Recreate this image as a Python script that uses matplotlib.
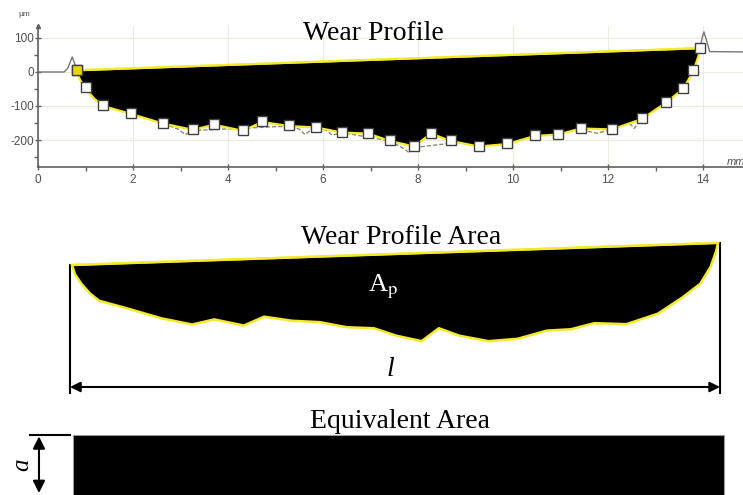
import numpy as np
import matplotlib
matplotlib.use('Agg')
import matplotlib.pyplot as plt
from matplotlib.patches import Rectangle

# measured points along the wear scar (mm, um)
marker_x = [0.82, 1.01, 1.37, 1.95, 2.64, 3.26, 3.71, 4.31, 4.72, 5.29, 5.85, 6.40, 6.95, 7.41,
            7.92, 8.27, 8.69, 9.28, 9.87, 10.46, 10.95, 11.43, 12.08, 12.72, 13.22, 13.58, 13.79, 13.94]
marker_y = [5, -44, -97, -120, -150, -168, -153, -171, -145, -157, -161, -176, -179, -201,
            -217, -179, -201, -217, -210, -186, -182, -164, -167, -136, -88, -48, 5, 70]

# lower boundary of the worn region
edge_x = [0.82, 0.88, 1.01, 1.18, 1.37, 1.95, 2.64, 3.26, 3.71, 4.31, 4.72, 5.29, 5.85, 6.40, 6.95,
          7.41, 7.92, 8.27, 8.69, 9.28, 9.87, 10.46, 10.95, 11.43, 12.08, 12.72, 13.22, 13.58,
          13.79, 13.90, 13.94]
edge_y = [5, -22, -50, -78, -100, -123, -152, -170, -155, -173, -147, -159, -163, -178, -181,
          -203, -219, -181, -203, -219, -212, -188, -184, -166, -169, -138, -90, -50, 0, 45, 70]

# raw trace outside the scar and dips below the fitted edge
left_x = [0.0, 0.55, 0.63, 0.72, 0.78, 0.82]
left_y = [0, 0, 12, 44, 22, 5]
right_x = [13.94, 13.98, 14.02, 14.07, 14.14, 14.84]
right_y = [70, 100, 118, 95, 60, 59]
raw_x = [2.64, 2.95, 3.10, 3.26, 5.29, 5.50, 5.62, 5.80, 6.05, 6.20, 6.40, 7.41, 7.70, 7.82,
         7.92, 11.43, 11.62, 11.78, 12.08, 12.45, 12.55, 12.65]
raw_y = [-152, -168, -184, -172, -159, -168, -184, -165, -170, -186, -178, -203, -225, -238,
         -222, -166, -176, -180, -169, -150, -166, -148]

# unworn reference line across the scar
ref_x = [0.82, 13.94]
ref_y = [5, 70]

W, H = 743, 495
plt.rcParams['mathtext.fontset'] = 'stix'
plt.rcParams['axes.unicode_minus'] = False
fig = plt.figure(figsize=(W / 100, H / 100), dpi=100)
serif = ['Liberation Serif', 'DejaVu Serif']
yel = '#f2ea2a'
grey = '#606060'

# ---- top panel: profilometer trace ----
px_mm = 47.5
px_um = 0.34
ax = fig.add_axes([38 / W, 1 - 167 / H, (W - 38) / W, 141 / H])
ax.set_xlim(0, (W - 38) / px_mm)
ax.set_ylim(-(167 - 72) / px_um, (72 - 26) / px_um)
for s in ['top', 'right']:
    ax.spines[s].set_visible(False)
for s in ['left', 'bottom']:
    ax.spines[s].set_color(grey)
    ax.spines[s].set_linewidth(1.2)
ax.set_xticks(np.arange(0, 15, 2))
ax.set_xticks(np.arange(1, 15, 2), minor=True)
ax.set_yticks([-200, -100, 0, 100])
ax.set_yticks([-250, -150, -50, 50], minor=True)
ax.tick_params(which='both', colors=grey, labelcolor='#505050', labelsize=8.5, width=1)
ax.tick_params(which='major', length=4)
ax.tick_params(which='minor', length=3)
ax.tick_params(axis='x', direction='inout', pad=3)
ax.tick_params(axis='y', direction='inout', pad=1)
for lab in ax.get_xticklabels() + ax.get_yticklabels():
    lab.set_family('Liberation Sans')
ax.grid(True, which='major', color='#ecebdc', lw=0.8)
ax.set_axisbelow(True)
ax.plot([0], [ax.get_ylim()[1]], marker='^', ms=3, color=grey, clip_on=False)

ax.plot(left_x, left_y, color='#777777', lw=1)
ax.plot(right_x, right_y, color='#777777', lw=1)
ax.plot(raw_x, raw_y, color='#8a8a70', lw=1, ls=(0, (3, 1.5)))
ax.fill(edge_x, edge_y, facecolor='black', edgecolor=yel, lw=1.6, zorder=3)
ax.plot(ref_x, ref_y, color=yel, lw=1.5, zorder=4)
ax.plot(marker_x, marker_y, ls='none', marker='s', ms=6.5, mfc='white', mec='#404040',
        mew=1, zorder=5)
ax.plot(marker_x[:1], marker_y[:1], ls='none', marker='s', ms=6.5, mfc='#e8d800', mec='#404040',
        mew=1, zorder=6)
fig.text(18 / W, 1 - 15 / H, 'µm', fontsize=6, color='#505050', family='Liberation Sans',
         ha='left', va='center')
fig.text(727 / W, 1 - 162 / H, 'mm', fontsize=8, color='#505050', family='Liberation Sans',
         style='italic', ha='left', va='center')
fig.text(373 / W, 1 - 33 / H, 'Wear Profile', fontsize=20, family=serif, ha='center', va='center')

# ---- middle and bottom panels: area and equivalent rectangle ----
sx = 49.24
sy = 0.34
top_px = 205
ax2 = fig.add_axes([0, 0, 1, (H - top_px) / H])
ax2.set_xlim(ref_x[0] - 72 / sx, ref_x[0] + (W - 72) / sx)
ax2.set_ylim(ref_y[0] - (H - 265) / sy, ref_y[0] + (265 - top_px) / sy)
ax2.axis('off')

fig.text(401 / W, 1 - 238 / H, 'Wear Profile Area', fontsize=20, family=serif, ha='center',
         va='center')
ax2.fill(edge_x, edge_y, facecolor='black', edgecolor=yel, lw=1.8, zorder=3)
ax2.plot(ref_x, ref_y, color=yel, lw=1.5, zorder=4)
fig.text(383 / W, 1 - 287 / H, r'A$_{\mathrm{p}}$', fontsize=19, family=serif, color='white',
         ha='center', va='center')

l_len = ref_x[1] - ref_x[0]
y_dim = ref_y[0] - (387 - 265) / sy
y_low = ref_y[0] - (393 - 265) / sy
lx0, lx1 = ref_x[0] - 0.04, ref_x[1] + 0.04
ax2.plot([lx0, lx0], [ref_y[0], y_low], color='black', lw=1.5)
ax2.plot([lx1, lx1], [ref_y[1], y_low], color='black', lw=1.5)
ax2.annotate('', xy=(lx0, y_dim), xytext=(lx1, y_dim),
             arrowprops=dict(arrowstyle='<|-|>', color='black', lw=1.5, shrinkA=0, shrinkB=0,
                             mutation_scale=15))
fig.text(390 / W, 1 - 370 / H, 'l', fontsize=20, family=serif, style='italic', ha='center',
         va='center')

fig.text(400 / W, 1 - 422 / H, 'Equivalent Area', fontsize=20, family=serif, ha='center',
         va='center')

# equivalent depth a = Ap / l
depth = np.interp(edge_x, ref_x, ref_y) - np.array(edge_y)
area = np.trapezoid(depth, edge_x)
a = area / l_len
rect_top = ref_y[0] - (435 - 265) / sy
rx0 = ref_x[0] + 0.02
ax2.add_patch(Rectangle((rx0, rect_top - a), l_len + 0.1, a, facecolor='black',
                        edgecolor='#999999', lw=0.8, clip_on=False))
ax_x = rx0 - 34 / sx
ax2.plot([rx0 - 43 / sx, rx0 - 3 / sx], [rect_top, rect_top], color='black', lw=1.5)
ax2.plot([rx0 - 43 / sx, rx0 - 3 / sx], [rect_top - a, rect_top - a], color='#888888', lw=1,
         clip_on=False)
ax2.annotate('', xy=(ax_x, rect_top - 58 / sy), xytext=(ax_x, rect_top), annotation_clip=False,
             arrowprops=dict(arrowstyle='<|-|>', color='black', lw=1.5, shrinkA=1, shrinkB=0,
                             mutation_scale=18))
ax2.text(rx0 - 51 / sx, rect_top - 30 / sy, 'a', fontsize=18, family=serif, style='italic',
         rotation=90, ha='center', va='center')

fig.savefig('out.png', dpi=100)
